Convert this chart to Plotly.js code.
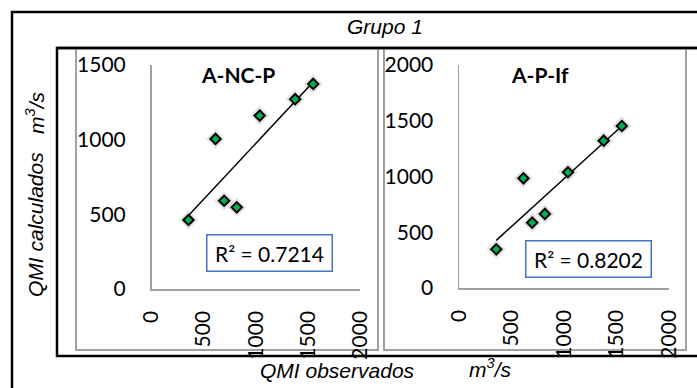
<!DOCTYPE html>
<html>
<head>
<meta charset="utf-8">
<script src="https://cdn.plot.ly/plotly-3.0.1.min.js"></script>
<style>html,body{margin:0;padding:0;background:#fff;}#chart{width:697px;height:388px;}</style>
</head>
<body>
<div id="chart"></div>
<script>
// Data
const qmiObservados = [355, 614, 697, 818, 1038, 1378, 1551];
const qmiCalcANCP   = [462, 1005, 591, 547, 1161, 1271, 1373];
const qmiCalcAPIf   = [347, 984, 586, 664, 1038, 1321, 1453];
const panelTitles = ['A-NC-P', 'A-P-If'];
const r2Labels = ['R² = 0.7214', 'R² = 0.8202'];
const xTicks = [0, 500, 1000, 1500, 2000];
const yTicksLeft = [0, 500, 1000, 1500];
const yTicksRight = [0, 500, 1000, 1500, 2000];

const W = 697, H = 388;
const px = v => v / W;
const py = v => 1 - v / H;

function linfit(x, y) {
  const n = x.length;
  const mx = x.reduce((a, b) => a + b, 0) / n;
  const my = y.reduce((a, b) => a + b, 0) / n;
  let sxy = 0, sxx = 0;
  for (let i = 0; i < n; i++) { sxy += (x[i] - mx) * (y[i] - my); sxx += (x[i] - mx) ** 2; }
  const m = sxy / sxx, b = my - m * mx;
  const xs = [Math.min(...x), Math.max(...x)];
  return { x: xs, y: xs.map(v => m * v + b) };
}

const green = '#00B050';
function pointTraces(y, xa, ya) {
  const fit = linfit(qmiObservados, y);
  return [
    { x: qmiObservados, y: y, xaxis: xa, yaxis: ya, type: 'scatter', mode: 'markers',
      marker: { symbol: 'diamond', size: 15, color: 'rgba(0,0,0,0.10)', line: { width: 0 } },
      hoverinfo: 'skip', showlegend: false },
    { x: fit.x, y: fit.y, xaxis: xa, yaxis: ya, type: 'scatter', mode: 'lines',
      line: { color: '#000', width: 1.5 }, showlegend: false },
    { x: qmiObservados, y: y, xaxis: xa, yaxis: ya, type: 'scatter', mode: 'markers',
      marker: { symbol: 'diamond', size: 8, color: green, line: { color: '#000', width: 2 } },
      showlegend: false }
  ];
}

const data = [
  ...pointTraces(qmiCalcANCP, 'x', 'y'),
  ...pointTraces(qmiCalcAPIf, 'x2', 'y2')
];

const tickFont = { family: 'Lato, "Open Sans", sans-serif', size: 21, color: '#000' };
const gray = '#A0A0A0';
const xCommon = {
  range: [0, 2000], tickvals: xTicks, ticktext: xTicks.map(String), tickangle: -90,
  showgrid: false, zeroline: false, showline: true, linecolor: gray, linewidth: 1.5,
  ticks: 'outside', ticklen: 12, tickcolor: 'rgba(0,0,0,0)', tickfont: tickFont, fixedrange: true
};
const yCommon = {
  showgrid: false, zeroline: false, showline: true, linecolor: gray, linewidth: 1.5,
  ticks: 'outside', ticklen: 20, tickcolor: 'rgba(0,0,0,0)', tickfont: tickFont, fixedrange: true
};

const italic = { family: '"Liberation Sans", Arial, sans-serif', size: 21, color: '#000' };
const boldFont = { family: 'Lato, sans-serif', size: 21, color: '#000' };
const layout = {
  width: W, height: H,
  margin: { l: 0, r: 0, t: 0, b: 0 },
  paper_bgcolor: '#fff', plot_bgcolor: 'rgba(0,0,0,0)',
  showlegend: false,
  xaxis: Object.assign({}, xCommon, { domain: [px(151.5), px(360)], anchor: 'y' }),
  yaxis: Object.assign({}, yCommon, { domain: [py(289), py(65)], range: [0, 1500],
    tickvals: yTicksLeft, ticktext: yTicksLeft.map(String), anchor: 'x' }),
  xaxis2: Object.assign({}, xCommon, { domain: [px(459), px(669)], anchor: 'y2' }),
  yaxis2: Object.assign({}, yCommon, { domain: [py(288), py(65)], range: [0, 2000],
    tickvals: yTicksRight, ticktext: yTicksRight.map(String), anchor: 'x2' }),
  shapes: [
    { type: 'rect', xref: 'paper', yref: 'paper', x0: px(12), x1: px(720), y0: py(420), y1: py(12),
      line: { color: '#000', width: 2.5 }, layer: 'below' },
    { type: 'rect', xref: 'paper', yref: 'paper', x0: px(57), x1: px(720), y0: py(356), y1: py(48),
      line: { color: '#000', width: 2.5 }, layer: 'below' },
    { type: 'rect', xref: 'paper', yref: 'paper', x0: px(76), x1: px(378), y0: py(350), y1: py(48),
      line: { color: gray, width: 2 }, layer: 'below' },
    { type: 'rect', xref: 'paper', yref: 'paper', x0: px(384), x1: px(686), y0: py(350), y1: py(48),
      line: { color: gray, width: 2 }, layer: 'below' },
    { type: 'line', xref: 'paper', yref: 'paper', x0: px(57), x1: px(720), y0: py(48), y1: py(48),
      line: { color: '#000', width: 2.5 } }
  ],
  annotations: [
    { xref: 'paper', yref: 'paper', x: px(385), y: py(27), text: '<i>Grupo 1</i>', showarrow: false,
      font: italic, xanchor: 'center', yanchor: 'middle' },
    { xref: 'paper', yref: 'paper', x: px(35), y: py(225), text: '<i>QMI calculados</i>', showarrow: false,
      font: italic, textangle: -90, xanchor: 'center', yanchor: 'middle' },
    { xref: 'paper', yref: 'paper', x: px(35), y: py(113), text: '<i>m<sup>3</sup>/s</i>', showarrow: false,
      font: italic, textangle: -90, xanchor: 'center', yanchor: 'middle' },
    { xref: 'paper', yref: 'paper', x: px(337.5), y: py(370), text: '<i>QMI observados</i>', showarrow: false,
      font: italic, xanchor: 'center', yanchor: 'middle' },
    { xref: 'paper', yref: 'paper', x: px(490), y: py(368), text: '<i>m<sup>3</sup>/s</i>', showarrow: false,
      font: italic, xanchor: 'center', yanchor: 'middle' },
    { xref: 'paper', yref: 'paper', x: px(238), y: py(75), text: '<b>' + panelTitles[0] + '</b>', showarrow: false,
      font: boldFont, xanchor: 'center', yanchor: 'middle' },
    { xref: 'paper', yref: 'paper', x: px(540), y: py(75), text: '<b>' + panelTitles[1] + '</b>', showarrow: false,
      font: boldFont, xanchor: 'center', yanchor: 'middle' },
    { xref: 'paper', yref: 'paper', x: px(269.5), y: py(253), text: r2Labels[0], showarrow: false,
      font: { family: 'Lato, sans-serif', size: 21, color: '#000' }, xanchor: 'center', yanchor: 'middle',
      width: 124, height: 35, borderpad: 0, bordercolor: '#4472C4', borderwidth: 1.5, bgcolor: '#fff' },
    { xref: 'paper', yref: 'paper', x: px(588.5), y: py(259), text: r2Labels[1], showarrow: false,
      font: { family: 'Lato, sans-serif', size: 21, color: '#000' }, xanchor: 'center', yanchor: 'middle',
      width: 124, height: 35, borderpad: 0, bordercolor: '#4472C4', borderwidth: 1.5, bgcolor: '#fff' }
  ]
};

Plotly.newPlot('chart', data, layout, { displayModeBar: false, staticPlot: true });
</script>
</body>
</html>
